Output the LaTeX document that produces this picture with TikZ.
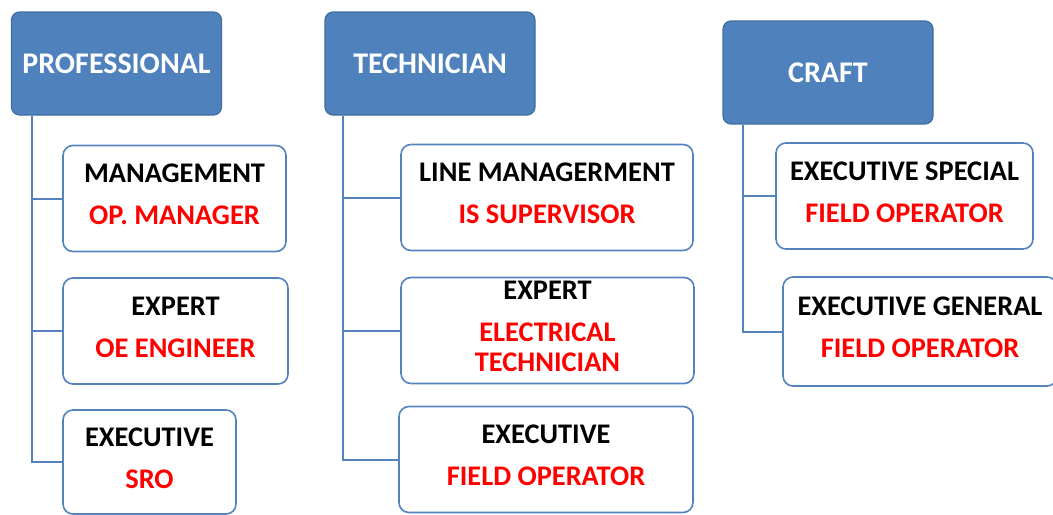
\documentclass[tikz,border=0pt]{standalone}
\usepackage{fontspec}
\setmainfont{Carlito}
\usepackage{xcolor}
\usepackage{tikz}
\usetikzlibrary{positioning,calc}
\definecolor{hdrblue}{RGB}{79,129,189}
\definecolor{hdredge}{RGB}{65,110,160}
\definecolor{boxedge}{RGB}{84,130,190}
\newcommand{\jobrole}[1]{\textcolor{red}{#1}}

\begin{document}
\begin{tikzpicture}[
  x=0.5pt, y=-0.5pt,
  header/.style={draw=hdredge, fill=hdrblue, rounded corners=4pt, line width=0.6pt,
    text=white, font=\bfseries\fontsize{15pt}{16pt}\selectfont,
    minimum width=105pt, minimum height=51.5pt, inner sep=0pt},
  jobbox/.style={draw=boxedge, fill=white, rounded corners=5pt, line width=0.8pt,
    align=center, font=\bfseries\fontsize{14.2pt}{15pt}\selectfont,
    minimum height=53pt, inner sep=0pt, text depth=4pt},
  link/.style={draw=boxedge, line width=1pt}
]
\path[use as bounding box, clip] (0,0) rectangle (1053,514);
\node[header] (prof) at (116.5,63.5) {PROFESSIONAL};
\node[header] (tech) at (430,63.5) {TECHNICIAN};
\node[header] (craft) at (828,72.5) {CRAFT};
\node[jobbox, minimum width=111.5pt] (mgmt) at (174.5,198.5) {MANAGEMENT\\[6pt]\jobrole{OP. MANAGER}};
\node[jobbox, minimum width=112.5pt] (pexp) at (175.5,331) {EXPERT\\[6pt]\jobrole{OE ENGINEER}};
\node[jobbox, minimum width=86.5pt, minimum height=52pt] (pexec) at (149.5,462) {EXECUTIVE\\[6pt]\jobrole{SRO}};
\node[jobbox, minimum width=146pt] (lmgmt) at (547,197.5) {LINE MANAGERMENT\\[6pt]\jobrole{IS SUPERVISOR}};
\node[jobbox, minimum width=146.5pt] (texp) at (547.5,330.5) {EXPERT\\[6pt]\jobrole{ELECTRICAL}\\\jobrole{TECHNICIAN}};
\node[jobbox, minimum width=147pt] (texec) at (546,459.5) {EXECUTIVE\\[6pt]\jobrole{FIELD OPERATOR}};
\node[jobbox, minimum width=128.5pt] (cspec) at (904.5,196) {EXECUTIVE SPECIAL\\[6pt]\jobrole{FIELD OPERATOR}};
\node[jobbox, minimum width=137pt, minimum height=54.5pt] (cgen) at (920,331.5) {EXECUTIVE GENERAL\\[6pt]\jobrole{FIELD OPERATOR}};
\coordinate (profroot) at ($(prof.south west)+(21,0)$);
\coordinate (techroot) at ($(tech.south west)+(19,0)$);
\coordinate (craftroot) at ($(craft.south west)+(21,0)$);
\foreach \job in {mgmt,pexp,pexec} \draw[link] (profroot) |- (\job.west);
\foreach \job in {lmgmt,texp,texec} \draw[link] (techroot) |- (\job.west);
\foreach \job in {cspec,cgen} \draw[link] (craftroot) |- (\job.west);
\end{tikzpicture}
\end{document}
